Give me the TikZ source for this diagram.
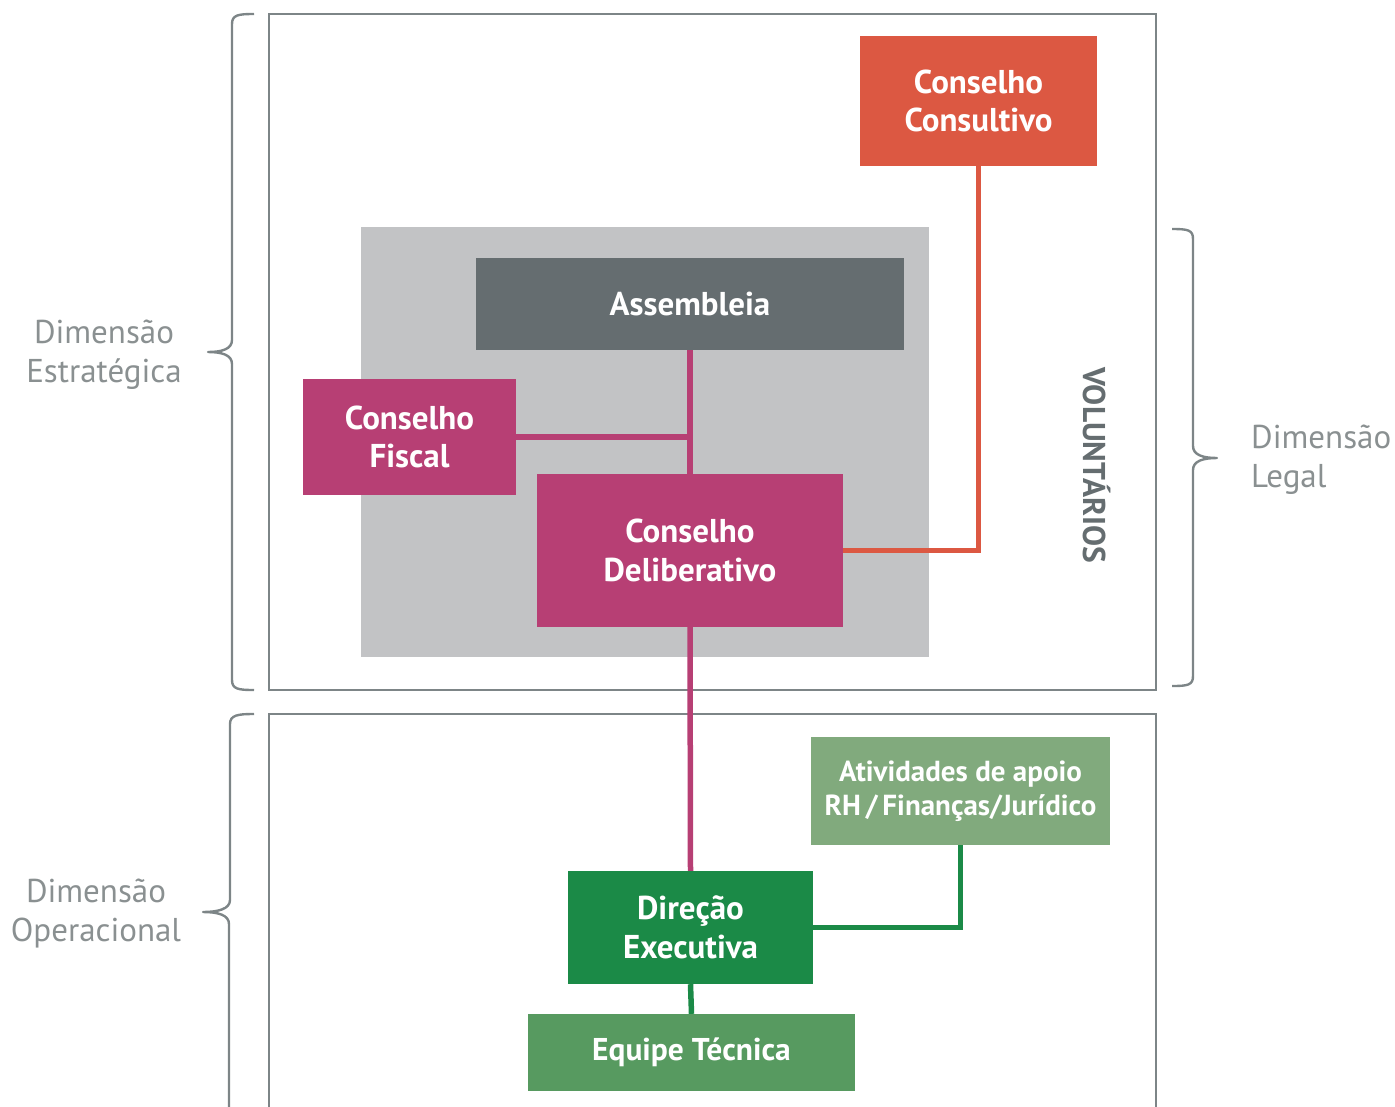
\documentclass[tikz,border=0pt]{standalone}
\usepackage{fontspec}
\setmainfont{PT Sans}
\usetikzlibrary{positioning}
\definecolor{moldura}{HTML}{7D8587}
\definecolor{fundo}{HTML}{C2C3C5}
\definecolor{ardosia}{HTML}{656D70}
\definecolor{magenta}{HTML}{B73F74}
\definecolor{coral}{HTML}{DC5842}
\definecolor{salvia}{HTML}{81AA7D}
\definecolor{floresta}{HTML}{1B8A47}
\definecolor{relva}{HTML}{579A60}
\definecolor{rotulo}{HTML}{8A9091}

\begin{document}
\begin{tikzpicture}[x=1pt,y=-1pt,
  every node/.style={font=\bfseries\fontsize{33}{38.5}\selectfont,text=white,align=center,inner sep=0pt},
  caixa/.style={rectangle},
  dim/.style={font=\fontsize{33}{39}\selectfont,text=rotulo},
  chave/.style={moldura,line width=2.4pt,line join=round},
  liga/.style={line width=5.5pt}]
  \useasboundingbox (0,0) rectangle (1395,1106);
  \clip (0,0) rectangle (1395,1106);
  % molduras das dimensoes
  \draw[moldura,line width=2.6pt] (269,14) rectangle (1156,690);
  \draw[moldura,line width=2.6pt] (269,1130) -- (269,714) -- (1156,714) -- (1156,1130);
  \fill[fundo] (361,227) rectangle (929,657);
  % chaves
  \draw[chave] (254,14) .. controls (238,14) and (232,15) .. (232,24) -- (232,340)
    .. controls (232,349) and (222,352) .. (208,352) .. controls (222,352) and (232,355) .. (232,364)
    -- (232,680) .. controls (232,689) and (238,690) .. (254,690);
  \draw[chave] (254,714) .. controls (238,714) and (230,715) .. (230,724) -- (230,900)
    .. controls (230,909) and (218,912) .. (203,912) .. controls (218,912) and (229,915) .. (229,924)
    -- (229,1130);
  \draw[chave] (1172,229) .. controls (1188,229) and (1193,230) .. (1193,239) -- (1193,446)
    .. controls (1193,455) and (1203,458) .. (1217,458) .. controls (1203,458) and (1193,461) .. (1193,470)
    -- (1193,676) .. controls (1193,685) and (1188,686) .. (1172,686);
  % orgaos
  \node[caixa,fill=coral,minimum width=237pt,minimum height=130pt] (consultivo) at (978.5,101) {Conselho\\Consultivo};
  \node[caixa,fill=ardosia,minimum width=428pt,minimum height=92pt] (assembleia) at (690,304) {Assembleia};
  \node[caixa,fill=magenta,minimum width=213pt,minimum height=116pt] (fiscal) at (409.5,437) {Conselho\\Fiscal};
  \node[caixa,fill=magenta,minimum width=306pt,minimum height=153pt] (delib) at (690,550.5) {Conselho\\Deliberativo};
  \node[caixa,fill=salvia,minimum width=299pt,minimum height=108pt,font=\bfseries\fontsize{29}{34}\selectfont] (apoio) at (960.5,791) {Atividades de apoio\\RH\,/\,Finanças/Jurídico};
  \node[caixa,fill=floresta,minimum width=245pt,minimum height=113pt] (direcao) at (690.5,927.5) {Direção\\Executiva};
  \node[caixa,fill=relva,minimum width=327pt,minimum height=77pt,font=\bfseries\fontsize{31.5}{34}\selectfont] (equipe) at (691.5,1052.5) {Equipe Técnica};
  \node[rotate=-90,text=ardosia,font=\bfseries\fontsize{31.5}{34}\selectfont] (volunt) at (1097,465) {VOLUNTÁRIOS};
  % ligacoes
  \draw[liga,magenta] (assembleia.south) -- (delib.north);
  \draw[liga,magenta] (fiscal.east) -- (fiscal.east -| assembleia.south);
  \draw[liga,magenta] (delib.south) -- (direcao.north);
  \draw[liga,coral,line width=5pt] (consultivo.south) |- (delib.east);
  \draw[liga,floresta,line width=5pt] (apoio.south) |- (direcao.east);
  \draw[liga,floresta] (direcao.south) -- (equipe.north);
  % rotulos
  \node[dim] (estrategica) at (104,355) {Dimensão\\Estratégica};
  \node[dim] (operacional) at (96,914) {Dimensão\\Operacional};
  \node[dim,align=left,anchor=west] (legal) at (1251,460) {Dimensão\\Legal};
\end{tikzpicture}
\end{document}
